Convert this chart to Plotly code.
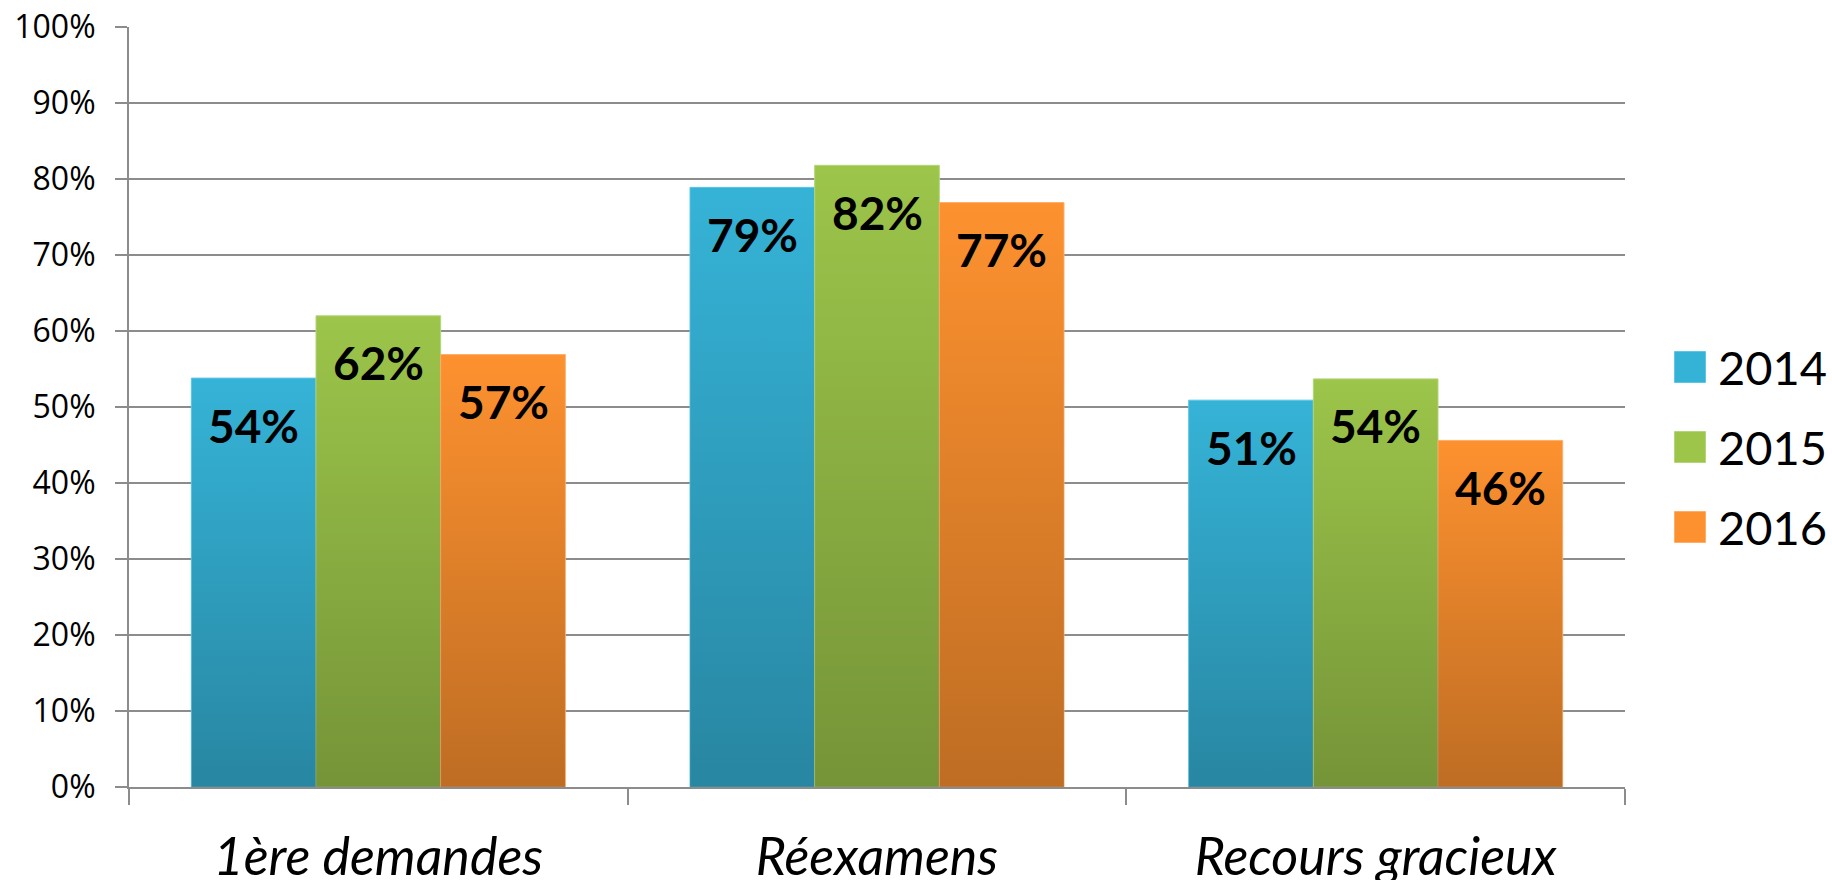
import base64
import plotly.graph_objects as go

categories = ["1ère demandes", "Réexamens", "Recours gracieux"]
years = ["2014", "2015", "2016"]
values_2014 = [53.8, 78.9, 50.9]
values_2015 = [62.0, 81.8, 53.7]
values_2016 = [56.9, 76.9, 45.6]
series = [values_2014, values_2015, values_2016]
colors = ["#35b3d7", "#9cc54a", "#fd912f"]
edges = ["#5cc6e4", "#b3d67a", "#ffae6a"]

GRID = "#8c8c8c"
BARGAP = 0.25
L, R, T, B = 129, 207, 27, 93
PW, PH = 1832 - L - R, 880 - T - B

# vertical shading laid over every bar (transparent at the top, darker at the foot)
svg = (
    '<svg xmlns="http://www.w3.org/2000/svg" width="10" height="100" viewBox="0 0 10 100" '
    'preserveAspectRatio="none"><defs><linearGradient id="g" x1="0" y1="0" x2="0" y2="1">'
    '<stop offset="0" stop-color="#000" stop-opacity="0"/>'
    '<stop offset="1" stop-color="#000" stop-opacity="0.25"/>'
    '</linearGradient></defs><rect width="10" height="100" fill="url(#g)"/></svg>'
)
shade = "data:image/svg+xml;base64," + base64.b64encode(svg.encode()).decode()

fig = go.Figure()
n_cat = len(categories)
n_ser = len(series)
bar_w = (1 - BARGAP) / n_ser
images = []
annotations = []

for j, (year, vals) in enumerate(zip(years, series)):
    fig.add_trace(go.Bar(
        x=categories,
        y=vals,
        name=year,
        marker=dict(color=colors[j], line=dict(color=edges[j], width=1)),
        showlegend=False,
        hovertemplate="%{x}<br>" + year + " : %{y:.0f}%<extra></extra>",
    ))
    for i, v in enumerate(vals):
        center = (i + (j - (n_ser - 1) / 2) * bar_w + 0.5) / n_cat
        images.append(dict(
            source=shade, xref="paper", yref="y",
            x=center - bar_w / n_cat / 2, y=v,
            sizex=bar_w / n_cat, sizey=v,
            xanchor="left", yanchor="top",
            sizing="stretch", layer="above",
        ))
        annotations.append(dict(
            xref="paper", yref="y", x=center, y=v, yshift=-47,
            text=f"{v:.0f}%", showarrow=False,
            font=dict(family="Lato", size=46, color="black", weight="bold"),
            xanchor="center", yanchor="middle",
        ))

# legend drawn by hand so the swatches can be as big as in the original
shapes = []
leg_x = (1690 - L) / PW
leg_y0 = (880 - B - 367) / PH
leg_step = 80 / PH
half_w = 15.5 / PW
half_h = 15.5 / PH
for j, year in enumerate(years):
    yc = leg_y0 - j * leg_step
    shapes.append(dict(
        type="rect", xref="paper", yref="paper",
        x0=leg_x - half_w, x1=leg_x + half_w, y0=yc - half_h, y1=yc + half_h,
        fillcolor=colors[j], line=dict(color=edges[j], width=1),
    ))
    images.append(dict(
        source=shade, xref="paper", yref="paper",
        x=leg_x - half_w, y=yc + half_h, sizex=2 * half_w, sizey=2 * half_h,
        xanchor="left", yanchor="top", sizing="stretch", layer="above",
    ))
    annotations.append(dict(
        xref="paper", yref="paper", x=leg_x + 26 / PW, y=yc,
        text=year, showarrow=False, xanchor="left", yanchor="middle",
        font=dict(family="Lato", size=47, color="black"),
    ))

fig.update_layout(
    width=1832,
    height=880,
    margin=dict(l=L, r=R, t=T, b=B),
    paper_bgcolor="white",
    plot_bgcolor="white",
    barmode="group",
    bargap=BARGAP,
    bargroupgap=0,
    showlegend=False,
    images=images,
    shapes=shapes,
    annotations=annotations,
)
fig.update_xaxes(
    type="category",
    range=[-0.5, n_cat - 0.5],
    automargin=False,
    tickson="boundaries",
    ticks="outside",
    ticklen=16,
    tickwidth=1.5,
    tickcolor=GRID,
    showline=True,
    linecolor=GRID,
    linewidth=2,
    showgrid=False,
    ticklabelstandoff=24,
    tickfont=dict(family="Lato", size=52, color="black", style="italic"),
)
fig.update_yaxes(
    range=[0, 100],
    automargin=False,
    dtick=10,
    ticksuffix="%",
    ticks="outside",
    ticklen=12,
    tickwidth=1.5,
    tickcolor=GRID,
    showline=True,
    linecolor=GRID,
    linewidth=2,
    gridcolor=GRID,
    gridwidth=1.5,
    zeroline=False,
    ticklabelstandoff=13,
    tickfont=dict(family="Open Sans", size=32, color="black"),
)

# drop the browser's default page margin so the figure sits at the window's corner
fig.write_html(
    "out.html",
    config={"displayModeBar": False},
    post_script="document.body.style.margin='0';",
)
